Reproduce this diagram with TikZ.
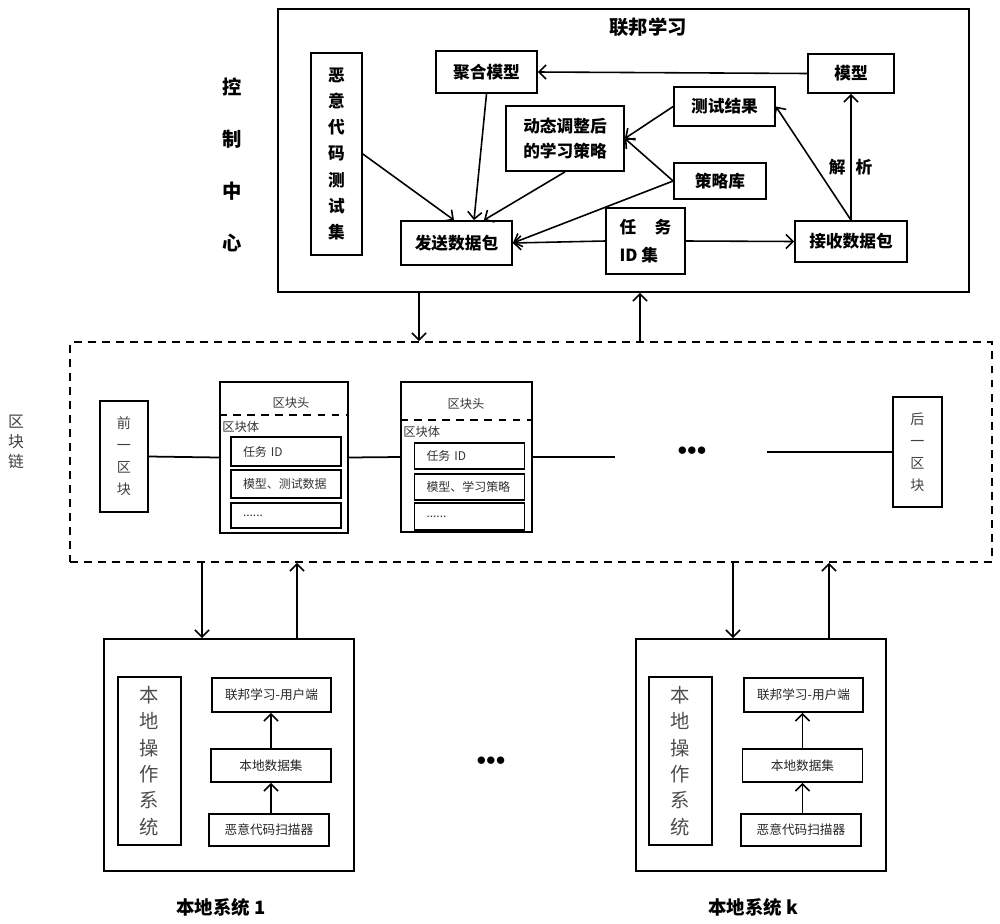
\documentclass[tikz,border=0pt]{standalone}
\usepackage{fontspec}
\setmainfont{Noto Sans CJK SC}
\usetikzlibrary{arrows,arrows.meta,calc}
\tikzstyle{bx}=[rectangle,draw=black,line width=1pt,inner sep=0pt,align=center]
\tikzstyle{tb}=[bx,font=\bfseries\fontsize{9.5}{11}\selectfont]
\tikzstyle{cb}=[bx,font=\fontsize{6.8}{8}\selectfont,text=black!80,align=left,
  inner xsep=0.24cm,text width=1.72cm]
\tikzstyle{lb}=[bx,font=\fontsize{7.2}{8.6}\selectfont,text=black!85]
\tikzstyle{vt}=[bx,font=\fontsize{11}{15}\selectfont,text=black!70]
\tikzstyle{ar}=[-{Straight Barb[length=4pt,width=8pt]},line width=0.9pt]
\tikzstyle{ln}=[line width=1pt]
\tikzstyle{dsh}=[line width=1.1pt,dash pattern=on 4.5pt off 3.5pt]
\tikzstyle{dots}=[font=\fontsize{11}{12}\selectfont,inner sep=0pt]

\begin{document}
\begin{tikzpicture}[x=0.02cm,y=-0.02cm]
        \useasboundingbox (0,0) rectangle (1000,923);
        % control centre
        \node [bx,minimum width=13.82cm,minimum height=5.66cm] (fed) at (623.5,150.5) {};
        \node [font=\bfseries\fontsize{11}{13}\selectfont] (ttl) at (648,27) {联邦学习};
        \node [align=center,font=\bfseries\fontsize{11}{29.5}\selectfont] (cc) at (232,165) {控\\制\\中\\心};
        \node [tb,minimum width=1.02cm,minimum height=4.04cm,font=\bfseries\fontsize{9.5}{14.9}\selectfont] (mal) at (336.5,154) {恶\\意\\代\\码\\测\\试\\集};
        \node [tb,minimum width=2.02cm,minimum height=0.84cm] (agg) at (486.5,72) {聚合模型};
        \node [tb,minimum width=1.72cm,minimum height=0.78cm] (mdl) at (851,73.5) {模型};
        \node [tb,minimum width=2.02cm,minimum height=0.78cm] (res) at (724.5,106.5) {测试结果};
        \node [tb,minimum width=2.36cm,minimum height=1.30cm,font=\bfseries\fontsize{9.5}{14}\selectfont] (dyn) at (565,138.5) {动态调整后\\的学习策略};
        \node [tb,minimum width=1.84cm,minimum height=0.72cm] (lib) at (720,181) {策略库};
        \node [tb,minimum width=2.22cm,minimum height=0.88cm] (snd) at (456.5,243) {发送数据包};
        \node [tb,minimum width=1.58cm,minimum height=1.32cm,align=left,font=\bfseries\fontsize{9.5}{16}\selectfont] (tid) at (645.5,241) {任\hspace{1.1em}务\\ID 集};
        \node [tb,minimum width=2.24cm,minimum height=0.82cm] (rcv) at (851,241.5) {接收数据包};
        \node [font=\bfseries\fontsize{9.5}{11}\selectfont] (jx) at (850.5,167) {解\hspace{0.6em}析};
        \draw [ar] (mdl.west) to (agg.east);
        \draw [ar] (agg.south) to ([xshift=0.35cm]snd.north);
        \draw [ar] (mal.east) to ([xshift=-0.05cm]snd.north);
        \draw [ar] (dyn.south) to ([xshift=0.55cm]snd.north);
        \draw [ar] (res.west) to (dyn.east);
        \draw [ar] (lib.west) to (dyn.east);
        \draw [ar] (lib.west) to (snd.east);
        \draw [ar] (tid.west) to (snd.east);
        \draw [ar] (tid.east) to (rcv.west);
        \draw [ar] (rcv.north) to (res.east);
        \draw [ar] (rcv.north) to (mdl.south);
        % blockchain
        \node [bx,dsh,minimum width=18.44cm,minimum height=4.4cm] (chain) at (531,452) {};
        \node [align=center,font=\fontsize{9}{11.3}\selectfont,text=black!75] (bcl) at (16,442) {区\\块\\链};
        \node [bx,minimum width=0.96cm,minimum height=2.22cm,font=\fontsize{8}{12.5}\selectfont,text=black!75] (prv) at (124,456.5) {前\\一\\区\\块};
        \node [bx,minimum width=0.98cm,minimum height=2.2cm,font=\fontsize{8}{12.5}\selectfont,text=black!75] (nxt) at (917.5,452) {后\\一\\区\\块};
        \node [bx,minimum width=2.56cm,minimum height=3.02cm] (b1) at (284,457.5) {};
        \node [font=\fontsize{7}{8}\selectfont,text=black!80] (h1) at (291,403) {区块头};
        \node [anchor=west,inner sep=0pt,font=\fontsize{7}{8}\selectfont,text=black!80] (t1) at (222,427) {区块体};
        \node [cb,minimum height=0.58cm] (b1a) at (286,451.5) {任务 ID};
        \node [cb,minimum height=0.56cm] (b1b) at (286,484) {模型、测试数据};
        \node [cb,minimum height=0.5cm] (b1c) at (286,515.5) {......};
        \node [bx,minimum width=2.62cm,minimum height=3.0cm] (b2) at (466.5,457) {};
        \node [font=\fontsize{7}{8}\selectfont,text=black!80] (h2) at (466,404) {区块头};
        \node [anchor=west,inner sep=0pt,font=\fontsize{7}{8}\selectfont,text=black!80] (t2) at (403,432) {区块体};
        \node [cb,minimum height=0.52cm] (b2a) at (469.5,456) {任务 ID};
        \node [cb,minimum height=0.52cm] (b2b) at (469.5,487) {模型、学习策略};
        \node [cb,minimum height=0.54cm] (b2c) at (469.5,516.5) {......};
        \node [dots] (dt1) at (692,451) {${\bullet}{\bullet}{\bullet}$};
        \coordinate (e2) at (615,457);
        \coordinate (s3) at (767,452);
        \draw [dsh] (b1.west |- 0,415) to (b1.east |- 0,415);
        \draw [dsh] (b2.west |- 0,420) to (b2.east |- 0,420);
        \draw [ln] (prv.east) to (b1.west);
        \draw [ln] (b1.east) to (b2.west);
        \draw [ln] (b2.east) to (e2);
        \draw [ln] (s3) to (nxt.west);
        % links
        \coordinate (d0) at (419,0);
        \coordinate (u0) at (640,0);
        \coordinate (d1) at (202,0);
        \coordinate (u1) at (297,0);
        \coordinate (dk) at (733,0);
        \coordinate (uk) at (829,0);
        \draw [ar] (fed.south -| d0) to (chain.north -| d0);
        \draw [ar] (chain.north -| u0) to (fed.south -| u0);
        % local systems
        \node [bx,minimum width=5.0cm,minimum height=4.64cm] (ls1) at (229,755) {};
        \node [vt,minimum width=1.26cm,minimum height=3.36cm] (os1) at (149.5,761) {本\\地\\操\\作\\系\\统};
        \node [lb,minimum width=2.38cm,minimum height=0.68cm] (cl1) at (271.5,695) {联邦学习-用户端};
        \node [lb,minimum width=2.4cm,minimum height=0.66cm] (ds1) at (271,765.5) {本地数据集};
        \node [lb,minimum width=2.4cm,minimum height=0.64cm] (sc1) at (269,830) {恶意代码扫描器};
        \node [font=\bfseries\fontsize{10.5}{12}\selectfont] (n1) at (221,907) {本地系统 1};
        \draw [ar] (sc1.north -| ds1) to (ds1.south);
        \draw [ar] (ds1.north) to (cl1.south -| ds1);
        \draw [ar] (chain.south -| d1) to (ls1.north -| d1);
        \draw [ar] (ls1.north -| u1) to (chain.south -| u1);
        \node [bx,minimum width=5.0cm,minimum height=4.64cm] (lsk) at (761,755) {};
        \node [vt,minimum width=1.26cm,minimum height=3.36cm] (osk) at (680.5,761) {本\\地\\操\\作\\系\\统};
        \node [lb,minimum width=2.38cm,minimum height=0.68cm] (clk) at (803.5,695) {联邦学习-用户端};
        \node [lb,minimum width=2.4cm,minimum height=0.66cm] (dsk) at (802.5,765.5) {本地数据集};
        \node [lb,minimum width=2.4cm,minimum height=0.64cm] (sck) at (801,830) {恶意代码扫描器};
        \node [font=\bfseries\fontsize{10.5}{12}\selectfont] (nk) at (753,907) {本地系统 k};
        \draw [ar] (sck.north -| dsk) to (dsk.south);
        \draw [ar] (dsk.north) to (clk.south -| dsk);
        \draw [ar] (chain.south -| dk) to (lsk.north -| dk);
        \draw [ar] (lsk.north -| uk) to (chain.south -| uk);
        \node [dots] (dt2) at (491,761) {${\bullet}{\bullet}{\bullet}$};
    \end{tikzpicture}
\end{document}
